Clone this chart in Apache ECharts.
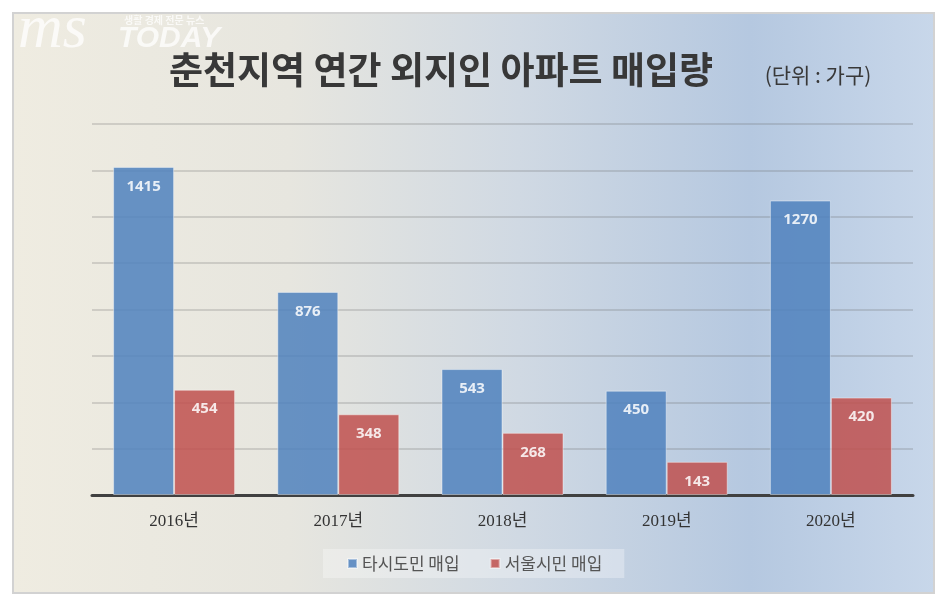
<!DOCTYPE html>
<html><head><meta charset="utf-8">
<script src="https://cdn.jsdelivr.net/npm/echarts@6/dist/echarts.min.js"></script>
<style>html,body{margin:0;padding:0;background:#fff}#c{width:951px;height:609px}</style>
</head><body><div id="c"></div>
<script>
const categories = ['2016년', '2017년', '2018년', '2019년', '2020년'];
const otherRegion = [1415, 876, 543, 450, 1270];
const seoul = [454, 348, 268, 143, 420];
const seriesNames = ['타시도민 매입', '서울시민 매입'];
const titleText = '춘천지역 연간 외지인 아파트 매입량';
const unitText = '(단위 : 가구)';

const chart = echarts.init(document.getElementById('c'));
const labelStyle = {
  show: true, position: 'insideTop', distance: 12,
  color: '#fff', fontWeight: 'bold', fontSize: 15, fontFamily: 'Open Sans'
};
chart.setOption({
  animation: false,
  graphic: [
    { type: 'rect', z: -100, shape: { x: 13, y: 13, width: 921, height: 580 },
      style: {
        fill: new echarts.graphic.LinearGradient(0, 0, 1, 0, [
          { offset: 0, color: '#efece1' },
          { offset: 0.3, color: '#e7e6df' },
          { offset: 0.55, color: '#d0d9e3' },
          { offset: 0.8, color: '#b5c8e0' },
          { offset: 1, color: '#c8d7ea' }
        ]),
        stroke: '#d2d2d2', lineWidth: 2
      } },
    { type: 'text', z: -50, left: 18, top: 0,
      style: { text: 'ms', font: 'italic 62px "Liberation Serif"', fill: 'rgba(255,255,255,0.75)' } },
    { type: 'text', z: -50, left: 124, top: 15,
      style: { text: '생활 경제 전문 뉴스', font: 'bold 10px "Noto Sans CJK KR"', fill: 'rgba(255,255,255,0.75)' } },
    { type: 'text', z: -50, left: 118, top: 24,
      style: { text: 'TODAY', font: 'italic bold 30px "Liberation Sans"', fill: 'rgba(255,255,255,0.75)' } },
    { type: 'text', z: 10, x: 441, y: 70,
      style: { text: titleText, font: 'bold 37px "Noto Sans CJK KR"', fill: '#383838', textAlign: 'center', textVerticalAlign: 'middle' } },
    { type: 'text', z: 10, x: 818, y: 75,
      style: { text: unitText, font: '21px "Noto Sans CJK KR"', fill: '#383838', textAlign: 'center', textVerticalAlign: 'middle' } }
  ],
  grid: { left: 92, right: 38, top: 124, bottom: 114 },
  legend: {
    data: seriesNames,
    left: 323, top: 549,
    padding: [6, 22, 6, 24],
    backgroundColor: 'rgba(255,255,255,0.3)',
    itemWidth: 9, itemHeight: 9, itemGap: 30,
    icon: 'rect',
    textStyle: { fontSize: 17, color: '#555', fontFamily: 'Noto Sans CJK KR' }
  },
  xAxis: {
    type: 'category', data: categories,
    axisLine: { lineStyle: { color: '#404040', width: 3 } },
    axisTick: { show: false },
    axisLabel: { margin: 18, fontSize: 17, color: '#333', fontFamily: '"Liberation Serif", "Noto Sans CJK KR"' }
  },
  yAxis: {
    type: 'value', min: 0, max: 1600, interval: 200,
    axisLabel: { show: false }, axisLine: { show: false }, axisTick: { show: false },
    splitLine: { lineStyle: { color: 'rgba(100,100,100,0.22)', width: 2 } }
  },
  series: [
    { name: seriesNames[0], type: 'bar', data: otherRegion, barGap: '0%', barCategoryGap: '25.7%',
      itemStyle: { color: '#4f81bd', opacity: 0.85, borderColor: 'rgba(255,255,255,0.5)', borderWidth: 1 },
      label: labelStyle },
    { name: seriesNames[1], type: 'bar', data: seoul,
      itemStyle: { color: '#c0504d', opacity: 0.85, borderColor: 'rgba(255,255,255,0.5)', borderWidth: 1 },
      label: labelStyle }
  ]
});
</script></body></html>
